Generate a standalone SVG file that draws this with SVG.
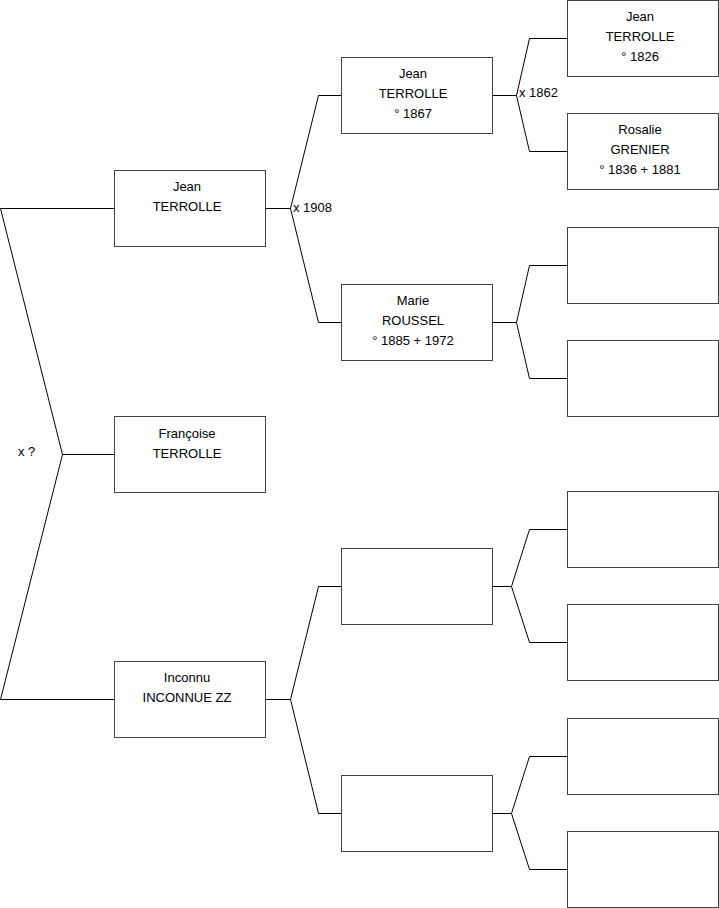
<svg xmlns="http://www.w3.org/2000/svg" width="719" height="908" viewBox="0 0 719 908">
<style>
.box{fill:#fff;stroke:#444;stroke-width:1}
.ln{fill:none;stroke:#000;stroke-width:1}
text{font-family:"Liberation Sans",Arial,sans-serif;font-size:13px;fill:#000}
.c{text-anchor:middle}
</style>
<rect width="719" height="908" fill="#fff"/>
<g id="connectors">
<path class="ln" d="M0.5,208.5H114.5M0.5,208.5L62.5,454.5L0.5,699.5M62.5,454.5H114.5M0.5,699.5H114.5"/>
<path class="ln" d="M265.5,208.5H290.5L318.5,95.5H341.5M290.5,208.5L318.5,322.5H341.5"/>
<path class="ln" d="M265.5,699.5H290.5L318.5,586.5H341.5M290.5,699.5L318.5,813.5H341.5"/>
<path class="ln" d="M492.5,95.5H516.5L529.5,38.5H567.5M516.5,95.5L529.5,151.5H567.5"/>
<path class="ln" d="M492.5,322.5H516.5L529.5,265.5H567.5M516.5,322.5L529.5,378.5H567.5"/>
<path class="ln" d="M492.5,586.5H511.5L529.5,529.5H567.5M511.5,586.5L529.5,642.5H567.5"/>
<path class="ln" d="M492.5,813.5H511.5L529.5,756.5H567.5M511.5,813.5L529.5,869.5H567.5"/>
<text x="18" y="456">x ?</text>
<text x="293" y="212">x 1908</text>
<text x="519" y="97">x 1862</text>
</g>
<g id="n1"><rect class="box" x="114.5" y="170.5" width="151" height="76"/>
<text class="c" x="187" y="191">Jean</text><text class="c" x="187" y="211">TERROLLE</text></g>
<g id="n2"><rect class="box" x="114.5" y="416.5" width="151" height="76"/>
<text class="c" x="187" y="438">Françoise</text><text class="c" x="187" y="458">TERROLLE</text></g>
<g id="n3"><rect class="box" x="114.5" y="661.5" width="151" height="76"/>
<text class="c" x="187" y="682">Inconnu</text><text class="c" x="187" y="702">INCONNUE ZZ</text></g>
<g id="n4"><rect class="box" x="341.5" y="57.5" width="151" height="76"/>
<text class="c" x="413" y="78">Jean</text><text class="c" x="413" y="98">TERROLLE</text><text class="c" x="413" y="118">° 1867</text></g>
<g id="n5"><rect class="box" x="341.5" y="284.5" width="151" height="76"/>
<text class="c" x="413" y="305">Marie</text><text class="c" x="413" y="325">ROUSSEL</text><text class="c" x="413" y="345">° 1885 + 1972</text></g>
<g id="n6"><rect class="box" x="341.5" y="548.5" width="151" height="76"/></g>
<g id="n7"><rect class="box" x="341.5" y="775.5" width="151" height="76"/></g>
<g id="n8"><rect class="box" x="567.5" y="0.5" width="151" height="76"/>
<text class="c" x="640" y="21">Jean</text><text class="c" x="640" y="41">TERROLLE</text><text class="c" x="640" y="61">° 1826</text></g>
<g id="n9"><rect class="box" x="567.5" y="113.5" width="151" height="76"/>
<text class="c" x="640" y="134">Rosalie</text><text class="c" x="640" y="154">GRENIER</text><text class="c" x="640" y="174">° 1836 + 1881</text></g>
<g id="n10"><rect class="box" x="567.5" y="227.5" width="151" height="76"/></g>
<g id="n11"><rect class="box" x="567.5" y="340.5" width="151" height="76"/></g>
<g id="n12"><rect class="box" x="567.5" y="491.5" width="151" height="76"/></g>
<g id="n13"><rect class="box" x="567.5" y="604.5" width="151" height="76"/></g>
<g id="n14"><rect class="box" x="567.5" y="718.5" width="151" height="76"/></g>
<g id="n15"><rect class="box" x="567.5" y="831.5" width="151" height="76"/></g>
</svg>
